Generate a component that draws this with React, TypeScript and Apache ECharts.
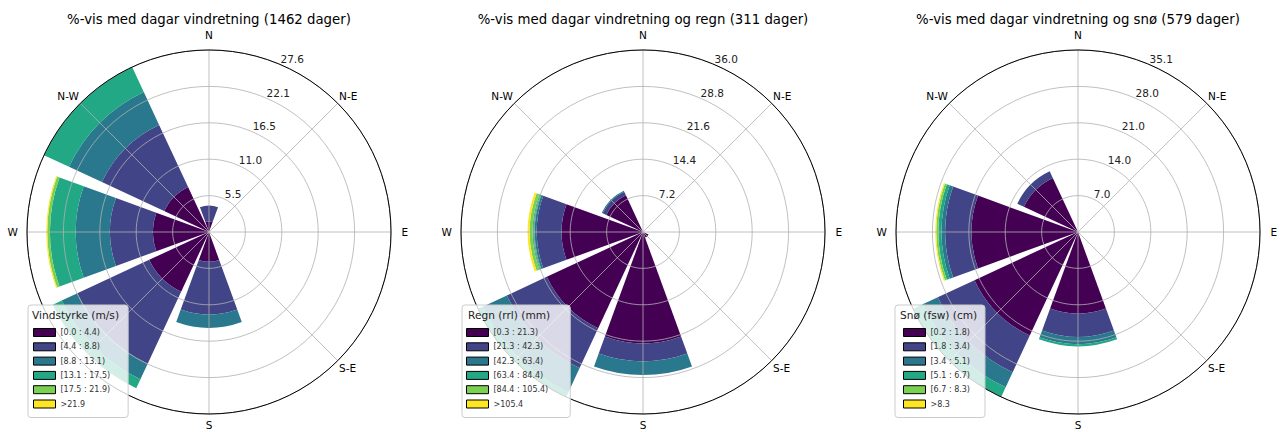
import React, { useEffect, useRef } from "react";
import * as echarts from "echarts";

const FONT = "DejaVu Sans";
const COMPASS = ["N", "N-E", "E", "S-E", "S", "S-W", "W", "N-W"];
const COLORS = ["#440154", "#414487", "#2a788e", "#22a884", "#7ad151", "#fde725"];

// values per bin, in compass order N, N-E, E, S-E, S, S-W, W, N-W (percent of days)
// Chart 1: wind speed
const TITLE_1 = "%-vis med dagar vindretning (1462 dager)";
const LEGEND_TITLE_1 = "Vindstyrke (m/s)";
const BINS_1 = ["[0.0 : 4.4)", "[4.4 : 8.8)", "[8.8 : 13.1)", "[13.1 : 17.5)", "[17.5 : 21.9)", ">21.9"];
const RTICKS_1 = ["5.5", "11.0", "16.5", "22.1", "27.6"];
const WIND_B0 = [1.6, 0, 0, 0, 4.5, 10.0, 8.5, 7.5];
const WIND_B1 = [2.4, 0, 0, 0, 8.0, 12.0, 6.5, 10.4];
const WIND_B2 = [0, 0, 0, 0, 2.0, 2.6, 5.2, 5.5];
const WIND_B3 = [0, 0, 0, 0, 0, 1.5, 3.9, 4.17];
const WIND_B4 = [0, 0, 0, 0, 0, 0, 0.4, 0];
const WIND_B5 = [0, 0, 0, 0, 0, 0, 0.15, 0];

// Chart 2: rain
const TITLE_2 = "%-vis med dagar vindretning og regn (311 dager)";
const LEGEND_TITLE_2 = "Regn (rrl) (mm)";
const BINS_2 = ["[0.3 : 21.3)", "[21.3 : 42.3)", "[42.3 : 63.4)", "[63.4 : 84.4)", "[84.4 : 105.4)", ">105.4"];
const RTICKS_2 = ["7.2", "14.4", "21.6", "28.8", "36.0"];
const RAIN_B0 = [0, 0, 0, 1.2, 22.0, 21.0, 16.1, 8.0];
const RAIN_B1 = [0, 0, 0, 0, 3.6, 8.7, 4.9, 0.8];
const RAIN_B2 = [0, 0, 0, 0, 2.7, 5.3, 0.4, 0.2];
const RAIN_B3 = [0, 0, 0, 0, 0, 1.0, 0.4, 0];
const RAIN_B4 = [0, 0, 0, 0, 0, 0, 0.6, 0];
const RAIN_B5 = [0, 0, 0, 0, 0, 0, 0.4, 0];

// Chart 3: snow
const TITLE_3 = "%-vis med dagar vindretning og snø (579 dager)";
const LEGEND_TITLE_3 = "Snø (fsw) (cm)";
const BINS_3 = ["[0.2 : 1.8)", "[1.8 : 3.4)", "[3.4 : 5.1)", "[5.1 : 6.7)", "[6.7 : 8.3)", ">8.3"];
const RTICKS_3 = ["7.0", "14.0", "21.0", "28.0", "35.1"];
const SNOW_B0 = [0, 0, 0, 0, 15.7, 22.0, 20.5, 11.5];
const SNOW_B1 = [0, 0, 0, 0, 4.5, 7.8, 5.1, 1.4];
const SNOW_B2 = [0, 0, 0, 0, 1.4, 3.2, 0.7, 0];
const SNOW_B3 = [0, 0, 0, 0, 0.4, 2.06, 0.6, 0];
const SNOW_B4 = [0, 0, 0, 0, 0, 0, 0.4, 0];
const SNOW_B5 = [0, 0, 0, 0, 0, 0, 0.2, 0];

// angle axis runs counter-clockwise from N, so the radius labels sit at 22.5° east of north
const ORDER = [0, 7, 6, 5, 4, 3, 2, 1];
// rich-text style key per compass label (pads cardinal labels outward); S-W lies under the legend
const COMPASS_STYLE = ["n", "d", "e", "d", "s", "", "w", "d"];

type Panel = {
  title: string;
  legendTitle: string;
  bins: string[];
  rticks: string[];
  values: number[][];
  cx: number;
  legendLeft: number;
  legendPad: number[];
  legendTitleLeft: number;
};

const PANELS: Panel[] = [
  {
    title: TITLE_1, legendTitle: LEGEND_TITLE_1, bins: BINS_1, rticks: RTICKS_1,
    values: [WIND_B0, WIND_B1, WIND_B2, WIND_B3, WIND_B4, WIND_B5],
    cx: 209, legendLeft: 28, legendPad: [23, 18, 9, 5], legendTitleLeft: 32,
  },
  {
    title: TITLE_2, legendTitle: LEGEND_TITLE_2, bins: BINS_2, rticks: RTICKS_2,
    values: [RAIN_B0, RAIN_B1, RAIN_B2, RAIN_B3, RAIN_B4, RAIN_B5],
    cx: 643, legendLeft: 462, legendPad: [23, 22, 9, 4], legendTitleLeft: 468,
  },
  {
    title: TITLE_3, legendTitle: LEGEND_TITLE_3, bins: BINS_3, rticks: RTICKS_3,
    values: [SNOW_B0, SNOW_B1, SNOW_B2, SNOW_B3, SNOW_B4, SNOW_B5],
    cx: 1078, legendLeft: 895, legendPad: [23, 15, 9, 8], legendTitleLeft: 900,
  },
];

const CY = 232;
const R = 182;
const GRID = { color: "#b0b0b0", width: 0.8 };
const LBL = { fontSize: 10.5, color: "#000", fontFamily: FONT };

function buildOption() {
  const polar: any[] = [];
  const angleAxis: any[] = [];
  const radiusAxis: any[] = [];
  const series: any[] = [];
  const legend: any[] = [];
  const title: any[] = [];

  PANELS.forEach((p, k) => {
    const pa = 2 * k;
    const pb = 2 * k + 1;
    const totals = COMPASS.map((_, d) => p.values.reduce((s, arr) => s + arr[d], 0));
    const M = Math.max(...totals);
    const step = M / 5;

    polar.push({ center: [p.cx, CY], radius: R });
    polar.push({ center: [p.cx, CY], radius: R });

    angleAxis.push({
      polarIndex: pa,
      type: "category",
      data: ORDER.map((i) => COMPASS[i]),
      startAngle: 67.5,
      clockwise: false,
      boundaryGap: true,
      axisLine: { show: false },
      axisTick: { show: false },
      axisLabel: { show: false },
      splitLine: { show: false },
      z: 3,
    });
    radiusAxis.push({
      polarIndex: pa,
      type: "value",
      min: 0,
      max: M,
      interval: step,
      axisLine: { show: false },
      axisTick: { show: false },
      axisLabel: {
        fontSize: 10.5,
        color: "#222",
        fontFamily: FONT,
        margin: -2,
        align: "left",
        verticalAlign: "bottom",
        formatter: (v: number) => {
          const i = Math.round(v / step);
          return i > 0 ? p.rticks[i - 1] : "";
        },
      },
      splitLine: { show: true, lineStyle: GRID },
      z: 3,
    });

    angleAxis.push({
      polarIndex: pb,
      type: "value",
      min: 0,
      max: 360,
      interval: 45,
      startAngle: 90,
      clockwise: true,
      axisLine: { show: true, lineStyle: { color: "#000", width: 1 } },
      axisTick: { show: false },
      axisLabel: {
        margin: 2,
        ...LBL,
        formatter: (v: number) => {
          if (v >= 360) return "";
          const i = Math.round(v / 45);
          if (!COMPASS_STYLE[i]) return "";
          return "{" + COMPASS_STYLE[i] + "|" + COMPASS[i] + "}";
        },
        rich: {
          n: { ...LBL, padding: [0, 0, 7.5, 0] },
          s: { ...LBL, padding: [3.5, 0, 0, 0] },
          e: { ...LBL, padding: [0, 0, 0, 8.5] },
          w: { ...LBL, padding: [0, 7, 0, 0] },
          d: { ...LBL },
        },
      },
      splitLine: { show: true, lineStyle: GRID },
      z: 3,
    });
    radiusAxis.push({
      polarIndex: pb,
      type: "value",
      min: 0,
      max: M,
      show: false,
    });

    p.values.forEach((arr, b) => {
      series.push({
        type: "bar",
        name: p.bins[b],
        coordinateSystem: "polar",
        polarIndex: pa,
        stack: "s" + k,
        barWidth: "89%",
        itemStyle: { color: COLORS[b] },
        data: ORDER.map((i) => arr[i]),
        z: 2,
      });
    });

    legend.push({
      data: p.bins,
      orient: "vertical",
      left: p.legendLeft,
      top: 305,
      icon: "rect",
      itemWidth: 22,
      itemHeight: 8,
      itemGap: 5.3,
      padding: p.legendPad,
      backgroundColor: "rgba(255,255,255,0.8)",
      borderColor: "#cccccc",
      borderWidth: 1,
      borderRadius: 3,
      selectedMode: false,
      itemStyle: { borderColor: "#000", borderWidth: 1 },
      textStyle: { fontSize: 8, color: "#333", fontFamily: FONT, lineHeight: 8 },
      z: 4,
    });

    title.push({
      text: p.title,
      left: p.cx,
      top: 13,
      textAlign: "center",
      padding: 0,
      textStyle: { fontSize: 13.3, fontWeight: "normal", color: "#000", fontFamily: FONT },
    });
    title.push({
      text: p.legendTitle,
      left: p.legendTitleLeft,
      top: 309.5,
      padding: 0,
      z: 10,
      textStyle: { fontSize: 10.6, fontWeight: "normal", color: "#222", fontFamily: FONT },
    });
  });

  return {
    animation: false,
    backgroundColor: "#ffffff",
    textStyle: { fontFamily: FONT },
    title,
    polar,
    angleAxis,
    radiusAxis,
    legend,
    series,
  };
}

export default function App() {
  const ref = useRef<HTMLDivElement>(null);
  useEffect(() => {
    if (!ref.current) return;
    const chart = echarts.init(ref.current, undefined, { renderer: "svg" });
    chart.setOption(buildOption());
    return () => chart.dispose();
  }, []);
  return (
    <div
      ref={ref}
      style={{ position: "fixed", left: 0, top: 0, width: 1280, height: 432, background: "#fff" }}
    />
  );
}
